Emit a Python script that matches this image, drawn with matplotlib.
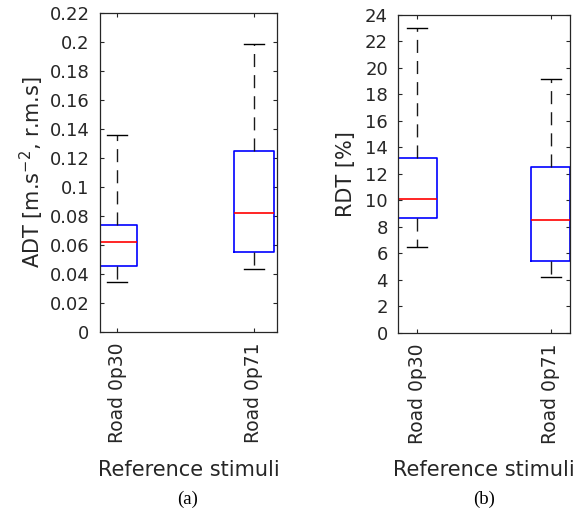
import matplotlib.pyplot as plt

plt.rcParams['font.family'] = 'DejaVu Sans'
plt.rcParams['lines.scale_dashes'] = False

# box statistics per stimulus (lower whisker, Q1, median, Q3, upper whisker)
stimuli = ['Road 0p30', 'Road 0p71']

adt_low = [0.0347, 0.0434]
adt_q1 = [0.0455, 0.0550]
adt_med = [0.0620, 0.0818]
adt_q3 = [0.0736, 0.1248]
adt_high = [0.1360, 0.1988]

rdt_low = [6.47, 4.21]
rdt_q1 = [8.69, 5.44]
rdt_med = [10.12, 8.54]
rdt_q3 = [13.19, 12.54]
rdt_high = [22.99, 19.18]

adt_ticks = [0, 0.02, 0.04, 0.06, 0.08, 0.1, 0.12, 0.14, 0.16, 0.18, 0.2, 0.22]
rdt_ticks = [0, 2, 4, 6, 8, 10, 12, 14, 16, 18, 20, 22, 24]

grey = '#262626'


def make_stats(low, q1, med, q3, high):
    stats = []
    for i in range(len(stimuli)):
        stats.append({'whislo': low[i], 'q1': q1[i], 'med': med[i],
                      'q3': q3[i], 'whishi': high[i], 'label': stimuli[i]})
    return stats


def panel(ax, stats, ticks, ylabel, xlim, ylabel_x):
    ax.bxp(stats, positions=[1, 2], widths=0.29, capwidths=0.15,
           showfliers=False,
           boxprops=dict(color='blue', linewidth=1.2),
           medianprops=dict(color='red', linewidth=1.2),
           whiskerprops=dict(color='#1a1a1a', linewidth=1.0,
                             linestyle=(0, (9.4, 5.8))),
           capprops=dict(color='black', linewidth=1.0))
    ax.set_xlim(xlim)
    ax.set_ylim(ticks[0], ticks[-1])
    ax.set_yticks(ticks)
    ax.set_yticklabels(['%g' % t for t in ticks])
    ax.set_xticks([1, 2])
    ax.set_xticklabels(stimuli, rotation=90, fontsize=13.5, color=grey)
    ax.tick_params(axis='y', labelsize=13, labelcolor=grey)
    ax.tick_params(direction='in', length=3, width=0.8, color=grey,
                   right=True, top=True, pad=7.5)
    for s in ax.spines.values():
        s.set_color(grey)
        s.set_linewidth(0.9)
    ax.set_ylabel(ylabel, fontsize=15, color=grey, va='center')
    ax.yaxis.set_label_coords(ylabel_x, 0.5)
    ax.set_xlabel('Reference stimuli', fontsize=15, color=grey, va='center')
    ax.xaxis.set_label_coords(0.5, -0.432)


fig = plt.figure(figsize=(5.87, 5.13), dpi=100)
ax1 = fig.add_axes([0.1704, 0.3528, 0.3015, 0.6218])
ax2 = fig.add_axes([0.6786, 0.3515, 0.2925, 0.6193])

panel(ax1, make_stats(adt_low, adt_q1, adt_med, adt_q3, adt_high),
      adt_ticks, 'ADT [m.s$^{-2}$, r.m.s]', (0.876, 2.168), -0.384)
panel(ax2, make_stats(rdt_low, rdt_q1, rdt_med, rdt_q3, rdt_high),
      rdt_ticks, 'RDT [%]', (0.858, 2.145), -0.305)

fig.text(188 / 587, 1 - 499 / 513, '(a)', ha='center', va='center',
         family='Liberation Serif', fontsize=13.5, color='black')
fig.text(484 / 587, 1 - 499 / 513, '(b)', ha='center', va='center',
         family='Liberation Serif', fontsize=13.5, color='black')

fig.savefig('out.png', dpi=100)
